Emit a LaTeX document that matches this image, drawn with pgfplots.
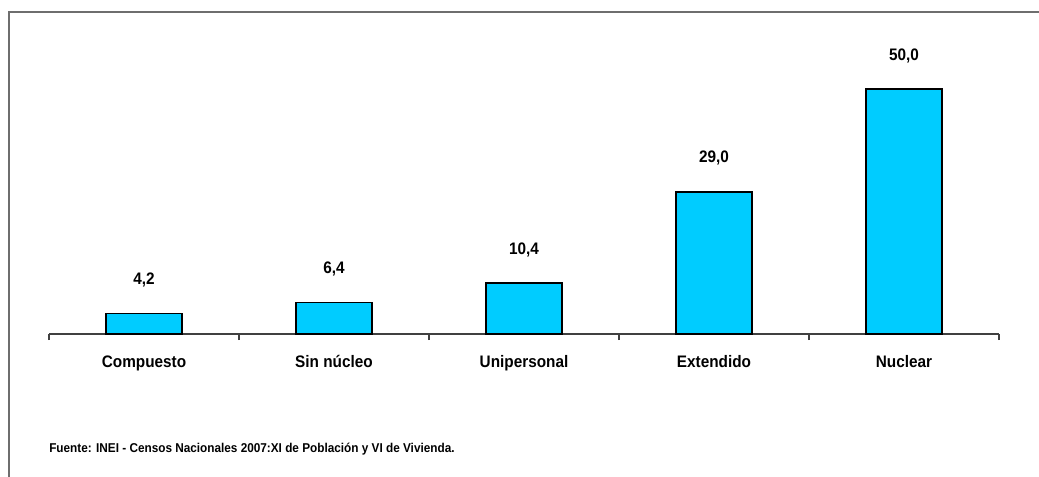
\documentclass[border=0pt]{standalone}
\usepackage{fontspec}
\setmainfont{Liberation Sans}[FakeStretch=0.92]
\usepackage{pgfplots}
\pgfplotsset{compat=1.18}
\definecolor{barcyan}{HTML}{00CCFF}
\definecolor{framegray}{HTML}{6E6E6E}
\definecolor{axisgray}{HTML}{404040}

\begin{document}
\begin{tikzpicture}[x=0.75pt,y=0.75pt]
\useasboundingbox (0,0) rectangle (1039,476);
\draw[framegray,line width=1.5pt] (8.5,-20) -- (8.5,463.5) -- (1060,463.5);
\begin{axis}[
  at={(36.75pt,106.5pt)}, anchor=south west,
  scale only axis,
  width=712.5pt, height=220.5pt,
  xmin=-0.5, xmax=4.5, ymin=0, ymax=60,
  hide y axis,
  axis x line*=bottom,
  x axis line style={axisgray,line width=0.8pt,-},
  ybar, bar width=0.4,
  xtick={0,1,2,3,4},
  xticklabels={Compuesto,Sin núcleo,Unipersonal,Extendido,Nuclear},
  major tick length=0pt,
  minor xtick={-0.5,0.5,1.5,2.5,3.5,4.5},
  minor tick length=4.5pt,
  tick align=outside,
  minor tick style={axisgray,line width=0.8pt},
  xticklabel style={anchor=base,yshift=-24.75pt,font=\bfseries\fontsize{12.5}{14}\selectfont},
  /pgf/number format/assume math mode=true,
  nodes near coords={\pgfmathprintnumber[fixed,fixed zerofill,precision=1,use comma]{\pgfplotspointmeta}},
  every node near coord/.append style={anchor=base,yshift=21.75pt,font=\bfseries\fontsize{12.5}{14}\selectfont,text=black},
  clip=false,
]
\addplot[fill=barcyan,draw=black,line width=0.9pt] coordinates {
  (0,4.2) (1,6.4) (2,10.4) (3,29.0) (4,50.0)
};
\end{axis}
\node[anchor=base west,font=\bfseries\fontsize{9.6}{11}\selectfont,inner sep=0pt] at (49,24)
  {Fuente: INEI - Censos Nacionales 2007:XI de Población y VI de Vivienda.};
\end{tikzpicture}
\end{document}
